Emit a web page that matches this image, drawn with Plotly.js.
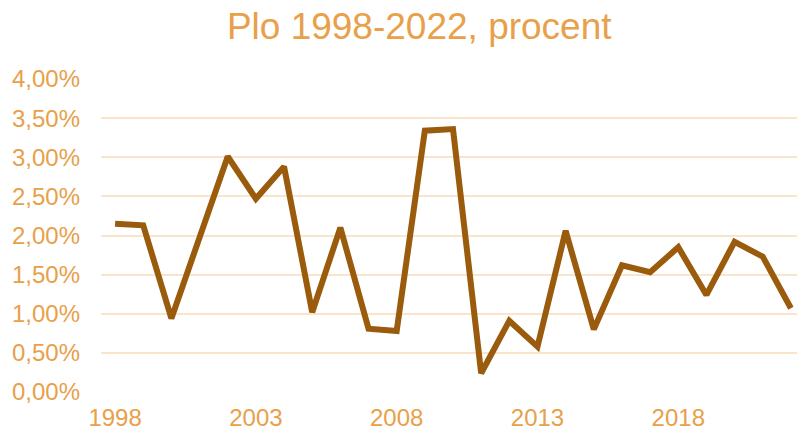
<!DOCTYPE html>
<html>
<head>
<meta charset="utf-8">
<script src="https://cdn.plot.ly/plotly-3.0.1.min.js"></script>
<style>html,body{margin:0;padding:0;background:#fff;}#chart{width:797px;height:431px;}</style>
</head>
<body>
<div id="chart"></div>
<script>
const years = [1998,1999,2000,2001,2002,2003,2004,2005,2006,2007,2008,2009,2010,2011,2012,2013,2014,2015,2016,2017,2018,2019,2020,2021,2022];
const values = [2.15,2.13,0.94,2.00,3.01,2.47,2.88,1.02,2.10,0.81,0.78,3.34,3.36,0.24,0.91,0.58,2.06,0.80,1.62,1.53,1.85,1.24,1.92,1.73,1.07];
const xTicks = [1998,2003,2008,2013,2018];
const yTicks = [0,0.5,1,1.5,2,2.5,3,3.5,4];
const titleText = 'Plo 1998-2022, procent';

const orange = '#E8A04A';
const font = 'Liberation Sans, Arial, sans-serif';
const yLabels = yTicks.map(v => v.toFixed(2).replace('.', ',') + '%');

Plotly.newPlot('chart', [{
  x: years, y: values, type: 'scatter', mode: 'lines',
  line: {color: '#9A5B0C', width: 6, shape: 'linear'},
  hoverinfo: 'skip'
}], {
  width: 797, height: 431,
  paper_bgcolor: '#fff', plot_bgcolor: '#fff',
  margin: {l: 101, r: 0, t: 79, b: 39},
  showlegend: false,
  font: {family: font, color: orange},
  title: {text: titleText, font: {family: font, size: 37, color: orange},
          xref: 'container', x: 0.526, xanchor: 'center',
          yref: 'container', y: 0.94, yanchor: 'middle'},
  xaxis: {range: [1997.5, 2022.216], tickmode: 'array', tickvals: xTicks, ticktext: xTicks.map(String),
          showgrid: false, zeroline: false, showline: false, ticks: '',
          tickfont: {family: font, size: 24, color: orange}, ticklabelstandoff: 9},
  yaxis: {range: [0, 4], tickmode: 'array', tickvals: yTicks, ticktext: yLabels,
          showgrid: true, gridcolor: '#FBE5CA', gridwidth: 2,
          zeroline: false, showline: false, ticks: '',
          tickfont: {family: font, size: 24, color: orange}, ticklabelstandoff: 20}
}, {staticPlot: true});
</script>
</body>
</html>
